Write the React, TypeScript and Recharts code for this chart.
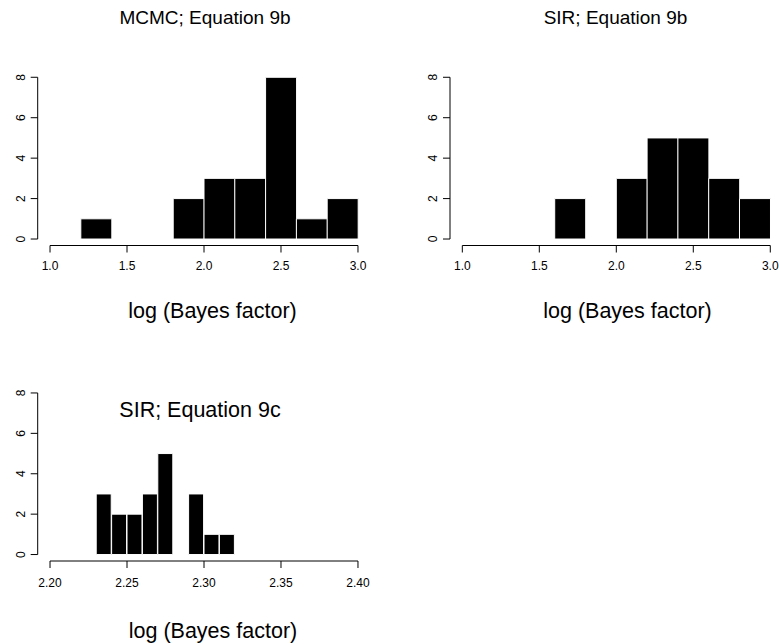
import React from 'react';
import { BarChart, Bar, XAxis, YAxis, ReferenceLine } from 'recharts';

const FONT = "'Liberation Sans', Arial, Helvetica, sans-serif";

// Histogram bins (mid-points) and counts
const mcmc9bBinMids = [1.3, 1.5, 1.7, 1.9, 2.1, 2.3, 2.5, 2.7, 2.9];
const mcmc9bCounts = [1, 0, 0, 2, 3, 3, 8, 1, 2];

const sir9bBinMids = [1.7, 1.9, 2.1, 2.3, 2.5, 2.7, 2.9];
const sir9bCounts = [2, 0, 3, 5, 5, 3, 2];

const sir9cBinMids = [2.235, 2.245, 2.255, 2.265, 2.275, 2.285, 2.295, 2.305, 2.315];
const sir9cCounts = [3, 2, 2, 3, 5, 0, 3, 1, 1];

// Tick values
const wideXTicks = [1.0, 1.5, 2.0, 2.5, 3.0];
const narrowXTicks = [2.2, 2.25, 2.3, 2.35, 2.4];
const countTicks = [0, 2, 4, 6, 8];

// Texts
const panelTitles = ['MCMC; Equation 9b', 'SIR; Equation 9b', 'SIR; Equation 9c'];
const xLabel = 'log (Bayes factor)';

const YTick = (props: any) => {
  const { x, y, payload } = props;
  const bx = x - 2;
  return (
    <text
      x={bx}
      y={y}
      transform={`rotate(-90, ${bx}, ${y})`}
      textAnchor="middle"
      fontSize={12}
      fontFamily={FONT}
      fill="#000"
    >
      {payload.value}
    </text>
  );
};

type HistProps = {
  mids: number[];
  counts: number[];
  xTicks: number[];
  digits: number;
  left: number;
  top: number;
  width: number;
  height: number;
  margin: { top: number; right: number; bottom: number; left: number };
  yAxisWidth: number;
  xTickMargin: number;
};

function Hist({ mids, counts, xTicks, digits, left, top, width, height, margin, yAxisWidth, xTickMargin }: HistProps) {
  const data = mids.map((m, i) => ({ mid: m, count: counts[i] }));
  const xLo = xTicks[0];
  const xHi = xTicks[xTicks.length - 1];
  const xPad = (xHi - xLo) * 0.04;
  const yLo = countTicks[0];
  const yHi = countTicks[countTicks.length - 1];
  const yPad = (yHi - yLo) * 0.04;
  return (
    <div style={{ position: 'absolute', left, top, width, height }}>
      <BarChart width={width} height={height} data={data} margin={margin} barCategoryGap={0} barGap={0}>
        <XAxis
          dataKey="mid"
          type="number"
          domain={[xLo - xPad, xHi + xPad]}
          allowDataOverflow
          ticks={xTicks}
          interval={0}
          tickFormatter={(v: number) => v.toFixed(digits)}
          axisLine={false}
          stroke="#000"
          tickSize={7}
          tickMargin={xTickMargin}
          height={30}
          tick={{ fill: '#000', fontSize: 12, fontFamily: FONT }}
        />
        <YAxis
          type="number"
          domain={[yLo - yPad, yHi + yPad]}
          allowDataOverflow
          ticks={countTicks}
          interval={0}
          axisLine={false}
          stroke="#000"
          tickSize={7}
          tickMargin={4}
          width={yAxisWidth}
          tick={YTick}
        />
        <Bar dataKey="count" fill="#000" stroke="#fff" strokeWidth={1} isAnimationActive={false} />
        <ReferenceLine
          segment={[{ x: xLo, y: yLo - yPad }, { x: xHi, y: yLo - yPad }]}
          stroke="#000"
          strokeWidth={1}
          ifOverflow="visible"
        />
        <ReferenceLine
          segment={[{ x: xLo - xPad, y: yLo }, { x: xLo - xPad, y: yHi }]}
          stroke="#000"
          strokeWidth={1}
          ifOverflow="visible"
        />
      </BarChart>
    </div>
  );
}

export default function App() {
  return (
    <div
      style={{
        position: 'absolute',
        left: 0,
        top: 0,
        width: 779,
        height: 644,
        overflow: 'hidden',
        background: '#fff',
      }}
    >
      <Hist
        mids={mcmc9bBinMids}
        counts={mcmc9bCounts}
        xTicks={wideXTicks}
        digits={1}
        left={0}
        top={0}
        width={390}
        height={322}
        margin={{ top: 70.8, right: 19.7, bottom: 46.5, left: 0 }}
        yAxisWidth={37.7}
        xTickMargin={9}
      />
      <Hist
        mids={sir9bBinMids}
        counts={sir9bCounts}
        xTicks={wideXTicks}
        digits={1}
        left={390}
        top={0}
        width={400}
        height={322}
        margin={{ top: 70.8, right: 7.4, bottom: 46.5, left: 0 }}
        yAxisWidth={60}
        xTickMargin={9}
      />
      <Hist
        mids={sir9cBinMids}
        counts={sir9cCounts}
        xTicks={narrowXTicks}
        digits={2}
        left={0}
        top={322}
        width={390}
        height={322}
        margin={{ top: 64.5, right: 19.7, bottom: 53, left: 0 }}
        yAxisWidth={37.7}
        xTickMargin={10}
      />
      <svg
        width={779}
        height={644}
        style={{ position: 'absolute', left: 0, top: 0, pointerEvents: 'none' }}
      >
        <text x={205} y={23.5} textAnchor="middle" fontSize={19} fontFamily={FONT} fill="#000">
          {panelTitles[0]}
        </text>
        <text x={615.5} y={23.5} textAnchor="middle" fontSize={19} fontFamily={FONT} fill="#000">
          {panelTitles[1]}
        </text>
        <text x={200} y={417} textAnchor="middle" fontSize={21.5} fontFamily={FONT} fill="#000">
          {panelTitles[2]}
        </text>
        <text x={212.5} y={318} textAnchor="middle" fontSize={21.5} fontFamily={FONT} fill="#000">
          {xLabel}
        </text>
        <text x={627.5} y={318} textAnchor="middle" fontSize={21.5} fontFamily={FONT} fill="#000">
          {xLabel}
        </text>
        <text x={213} y={638} textAnchor="middle" fontSize={21.5} fontFamily={FONT} fill="#000">
          {xLabel}
        </text>
      </svg>
    </div>
  );
}
